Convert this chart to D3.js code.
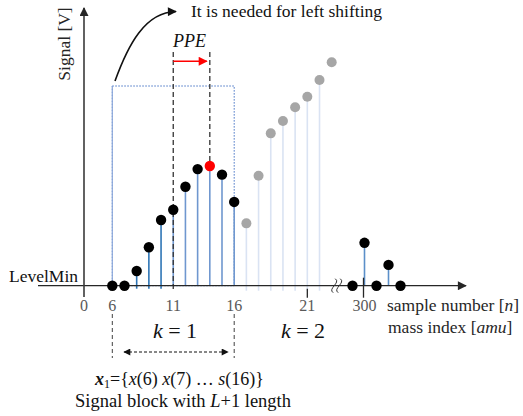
<!DOCTYPE html>
<html>
<head>
<meta charset="utf-8">
<script src="https://cdn.jsdelivr.net/npm/d3@7"></script>
<style>
  body { margin: 0; background: #fff; }
  svg { display: block; font-family: 'Liberation Serif', 'Times New Roman', serif; }
</style>
</head>
<body>
<svg id="container" width="523" height="416"></svg>
<script>
// block k=1 (samples 6..16), black dots, the 14th is the peak
const blockSamples = [6, 7, 8, 9, 10, 11, 12, 13, 14, 15, 16]
const blockValues = [0, 0, 0.66, 1.72, 2.94, 3.4, 4.43, 5.22, 5.36, 4.97, 3.75]
// following samples drawn in gray (next block)
const nextSamples = [17, 18, 19, 20, 21, 22, 23, 24]
const nextValues = [2.79, 4.92, 6.82, 7.37, 7.99, 8.46, 9.21, 10]
// far cluster after the axis break
const farSamples = [299, 300, 301, 302, 303]
const farValues = [0, 1.92, 0, 0.93, 0]
// tick labels (the figure prints "21" under the 22nd stem)
const tickSamples = [6, 11, 16, 22]
const tickLabels = ['6', '11', '16', '21']
const peakSample = 14
const shiftFrom = 11

const svg = d3.select('#container')

const x = d3.scaleLinear().domain([6, 24]).range([112.3, 331.7])
const xFar = d3.scaleLinear().domain([299, 303]).range([352.5, 400.5])
const y = d3.scaleLinear().domain([0, 10]).range([285.7, 62.3])
const base = y(0)
const originX = 84

const defs = svg.append('defs')
const marker = (id, color, w, h) =>
  defs
    .append('marker')
    .attr('id', id)
    .attr('viewBox', '0 0 10 10')
    .attr('refX', 9)
    .attr('refY', 5)
    .attr('markerUnits', 'userSpaceOnUse')
    .attr('markerWidth', w)
    .attr('markerHeight', h)
    .attr('orient', 'auto-start-reverse')
    .append('path')
    .attr('d', 'M0,0 L10,5 L0,10 Z')
    .attr('fill', color)
marker('axisHead', '#262626', 11, 9)
marker('blackHead', '#111', 11, 9)
marker('redHead', '#ff0000', 11, 9)
marker('smallHead', '#111', 9, 7)

// dotted block frame
svg
  .append('rect')
  .attr('x', x(6))
  .attr('y', 86)
  .attr('width', x(16) - x(6))
  .attr('height', base - 86)
  .attr('fill', 'none')
  .attr('stroke', '#4472c4')
  .attr('stroke-width', 1)
  .attr('stroke-dasharray', '1.5,1.5')
svg
  .append('line')
  .attr('x1', x(6)).attr('x2', x(6))
  .attr('y1', 86).attr('y2', base)
  .attr('stroke', '#8eaadb')
  .attr('stroke-width', 1.2)

// gray stems of next block
svg
  .selectAll('line.nextStem')
  .data(nextSamples.slice(0, -1))
  .enter()
  .append('line')
  .attr('class', 'nextStem')
  .attr('x1', (d) => x(d))
  .attr('x2', (d) => x(d))
  .attr('y1', (d, i) => y(nextValues[i]))
  .attr('y2', base + 5)
  .attr('stroke', '#dae3f3')
  .attr('stroke-width', 1.6)

// blue stems of block
svg
  .selectAll('line.blockStem')
  .data(blockSamples.filter((d, i) => blockValues[i] > 0))
  .enter()
  .append('line')
  .attr('class', 'blockStem')
  .attr('x1', (d) => x(d))
  .attr('x2', (d) => x(d))
  .attr('y1', (d) => y(blockValues[blockSamples.indexOf(d)]))
  .attr('y2', (d) => (d <= 10 ? base + 3 : base))
  .attr('stroke', (d) => (d <= 10 ? '#2e75b6' : '#6f97cf'))
  .attr('stroke-width', 1.6)

// far stems
svg
  .selectAll('line.farStem')
  .data(farSamples.filter((d, i) => farValues[i] > 0))
  .enter()
  .append('line')
  .attr('x1', (d) => xFar(d))
  .attr('x2', (d) => xFar(d))
  .attr('y1', (d) => y(farValues[farSamples.indexOf(d)]))
  .attr('y2', base)
  .attr('stroke', '#5b8fc9')
  .attr('stroke-width', 1.6)

// dashed PPE guides
svg
  .append('line')
  .attr('x1', x(shiftFrom)).attr('x2', x(shiftFrom))
  .attr('y1', 52).attr('y2', base + 5)
  .attr('stroke', '#333')
  .attr('stroke-width', 1.3)
  .attr('stroke-dasharray', '5,3')
svg
  .append('line')
  .attr('x1', x(peakSample)).attr('x2', x(peakSample))
  .attr('y1', 52).attr('y2', y(5.36) - 5)
  .attr('stroke', '#333')
  .attr('stroke-width', 1.3)
  .attr('stroke-dasharray', '5,3')
svg
  .append('line')
  .attr('x1', x(shiftFrom)).attr('x2', x(peakSample) - 3)
  .attr('y1', 61.3).attr('y2', 61.3)
  .attr('stroke', '#ff0000')
  .attr('stroke-width', 1.5)
  .attr('marker-end', 'url(#redHead)')

// axes
svg
  .append('line')
  .attr('x1', 38).attr('x2', 466)
  .attr('y1', base).attr('y2', base)
  .attr('stroke', '#262626')
  .attr('stroke-width', 1.3)
  .attr('marker-end', 'url(#axisHead)')
svg
  .append('line')
  .attr('x1', originX).attr('x2', originX)
  .attr('y1', 297).attr('y2', 8)
  .attr('stroke', '#3a3a3a')
  .attr('stroke-width', 1.6)
  .attr('marker-end', 'url(#axisHead)')

// axis break
const bx = 336.7
;[-2.5, 2.5].forEach((o) => {
  svg
    .append('path')
    .attr(
      'd',
      `M${bx + o - 1},${base + 7} C${bx + o - 7},${base + 3} ${bx + o + 7},${base - 3} ${bx + o + 1},${base - 7}`
    )
    .attr('fill', 'none')
    .attr('stroke', '#333')
    .attr('stroke-width', 1)
})

// ticks
svg.append('line')
  .attr('x1', x(22)).attr('x2', x(22))
  .attr('y1', base + 3).attr('y2', base + 12)
  .attr('stroke', '#262626').attr('stroke-width', 1.3)
svg.append('line')
  .attr('x1', xFar(300) - 1).attr('x2', xFar(300) - 1)
  .attr('y1', base - 8).attr('y2', base + 12)
  .attr('stroke', '#262626').attr('stroke-width', 1.3)

// dots
svg
  .selectAll('circle.next')
  .data(nextSamples)
  .enter()
  .append('circle')
  .attr('cx', (d) => x(d))
  .attr('cy', (d, i) => y(nextValues[i]))
  .attr('r', 5)
  .attr('fill', '#a6a6a6')
svg
  .selectAll('circle.block')
  .data(blockSamples)
  .enter()
  .append('circle')
  .attr('cx', (d) => x(d))
  .attr('cy', (d, i) => y(blockValues[i]))
  .attr('r', 5.2)
  .attr('fill', (d) => (d === peakSample ? '#ff0000' : '#000'))
svg
  .selectAll('circle.far')
  .data(farSamples)
  .enter()
  .append('circle')
  .attr('cx', (d) => xFar(d))
  .attr('cy', (d, i) => y(farValues[i]))
  .attr('r', 5.2)
  .attr('fill', '#000')

// tick labels
const tickG = svg.append('g').attr('font-size', 16).attr('fill', '#595959').attr('text-anchor', 'middle')
tickG.append('text').attr('x', originX).attr('y', 311).text('0')
tickG
  .selectAll('text.t')
  .data(tickSamples)
  .enter()
  .append('text')
  .attr('x', (d) => x(d))
  .attr('y', 311)
  .text((d, i) => tickLabels[i])
tickG.append('text').attr('x', xFar(300)).attr('y', 311).text('300')

// text
const t = svg.append('g').attr('font-size', 17.5).attr('fill', '#111')
t.append('text').attr('x', 191).attr('y', 17).text('It is needed for left shifting')
t.append('text').attr('x', 173).attr('y', 47).attr('font-style', 'italic').attr('font-size', 18).text('PPE')
t.append('text')
  .attr('transform', 'translate(70,44) rotate(-90)')
  .attr('text-anchor', 'middle')
  .attr('fill', '#262626')
  .text('Signal [V]')
t.append('text').attr('x', 9).attr('y', 282).text('LevelMin')

const sn = t.append('text').attr('x', 387).attr('y', 311).attr('fill', '#262626')
sn.append('tspan').text('sample number [')
sn.append('tspan').attr('font-style', 'italic').text('n')
sn.append('tspan').text(']')
const mi = t.append('text').attr('x', 388).attr('y', 333).attr('fill', '#262626')
mi.append('tspan').text('mass index [')
mi.append('tspan').attr('font-style', 'italic').text('amu')
mi.append('tspan').text(']')

const kText = (cx, k) => {
  const g = t.append('text').attr('x', cx).attr('y', 338).attr('text-anchor', 'middle').attr('font-size', 22)
  g.append('tspan').attr('font-style', 'italic').text('k')
  g.append('tspan').text(` = ${k}`)
}
kText(175, 1)
kText(303, 2)

// bottom block marks
;[6, 16].forEach((d) => {
  svg
    .append('line')
    .attr('x1', x(d)).attr('x2', x(d))
    .attr('y1', 314).attr('y2', 358)
    .attr('stroke', '#404040')
    .attr('stroke-width', 1)
    .attr('stroke-dasharray', '4,3')
})
svg
  .append('line')
  .attr('x1', 124).attr('x2', 228)
  .attr('y1', 352).attr('y2', 352)
  .attr('stroke', '#111')
  .attr('stroke-width', 1)
  .attr('stroke-dasharray', '3,2')
  .attr('marker-start', 'url(#smallHead)')
  .attr('marker-end', 'url(#smallHead)')

const xs = t.append('text').attr('x', 95).attr('y', 385).attr('font-size', 18)
xs.append('tspan').attr('font-style', 'italic').attr('font-weight', 'bold').text('x')
xs.append('tspan').attr('font-size', 12).attr('dy', 3).text('1')
xs.append('tspan').attr('dy', -3).text('={')
xs.append('tspan').attr('font-style', 'italic').text('x')
xs.append('tspan').text('(6) ')
xs.append('tspan').attr('font-style', 'italic').text('x')
xs.append('tspan').text('(7) … ')
xs.append('tspan').attr('font-style', 'italic').text('s')
xs.append('tspan').text('(16)}')

const sb = t.append('text').attr('x', 75).attr('y', 407).attr('font-size', 18.5)
sb.append('tspan').text('Signal block with ')
sb.append('tspan').attr('font-style', 'italic').text('L')
sb.append('tspan').text('+1 length')

// curved note arrow
svg
  .append('path')
  .attr('d', 'M115,81 C128,45 145,12 176,11.5')
  .attr('fill', 'none')
  .attr('stroke', '#111')
  .attr('stroke-width', 1.6)
  .attr('marker-end', 'url(#blackHead)')
</script>
</body>
</html>
